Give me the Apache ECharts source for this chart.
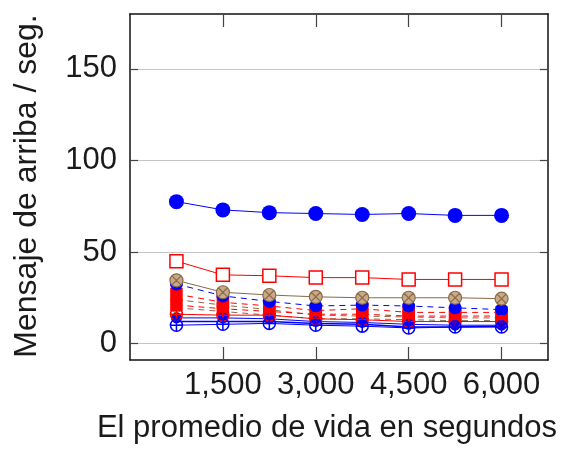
<!DOCTYPE html>
<html>
<head>
<meta charset="utf-8">
<script src="https://cdn.jsdelivr.net/npm/echarts@6/dist/echarts.min.js"></script>
<style>
  html, body { margin: 0; padding: 0; background: #ffffff; }
  #chart { width: 563px; height: 449px; }
</style>
</head>
<body>
<div id="chart"></div>
<script>
// Average lifetime (seconds) on the x axis
const lifetimes = [750, 1500, 2250, 3000, 3750, 4500, 5250, 6000];

// Upward messages per second, one array per curve
const blueTop     = [77.5, 73, 71.5, 71, 70.5, 71, 70, 70];
const redSquare   = [45, 37.5, 37, 36, 36, 35, 35, 35];
const brownTop    = [34.5, 28, 26.5, 25.5, 25, 25, 25, 24.5];
const blueDashed  = [32.5, 26, 23, 20.5, 21, 20.5, 19.5, 18.5];
const redDashed1  = [27, 22.5, 20.5, 18, 19, 17, 17, 17];
const brownDashed1 = [24, 21, 18.5, 15.5, 15, 14.5, 14, 14];
const redDashed2  = [21, 19, 17.5, 16, 16, 15, 15, 15];
const brownDashed2 = [19.5, 17.5, 15.5, 13.5, 13.5, 13, 12.5, 12.5];
const blueSolid1  = [14, 14, 13.5, 12, 11.5, 10.5, 10, 10];
const blueSolid2  = [12, 12, 12, 11, 10.5, 9, 9, 9.5];
const redPlus     = [16, 15.5, 15.5, 13.5, 13, 12, 12, 12];
const bluePlus    = [10, 10.5, 11, 10, 9.5, 8.5, 9, 9];

// Tick positions
const xTicks = [1500, 3000, 4500, 6000];
const yTicks = [0, 50, 100, 150];

const BLUE = '#0000ff';
const RED = '#ff0000';
const BROWN = '#8a6a48';
const circlePlus = 'path://M0,-10A10,10 0 1,1 0,10A10,10 0 1,1 0,-10ZM-10,0L10,0M0,-10L0,10';
const circleCross = 'path://M0,-10A10,10 0 1,1 0,10A10,10 0 1,1 0,-10ZM-7,-7L7,7M-7,7L7,-7';

function pairs(ys) { return lifetimes.map((x, i) => [x, ys[i]]); }

function curve(name, ys, opts) {
  return {
    name: name,
    type: 'line',
    data: pairs(ys),
    symbol: opts.symbol,
    symbolSize: opts.size,
    showSymbol: opts.symbol !== 'none',
    lineStyle: { color: opts.color, width: opts.width || 1, type: opts.dash ? [6, 5] : 'solid' },
    itemStyle: {
      color: opts.fill,
      borderColor: opts.stroke || opts.color,
      borderWidth: opts.bw == null ? 1.5 : opts.bw
    },
    emphasis: { disabled: true },
    z: 2
  };
}

const numFont = "'Liberation Sans', Arial, sans-serif";
const frameLine = { show: true, onZero: false, lineStyle: { color: '#111', width: 1.5 } };

const chart = echarts.init(document.getElementById('chart'), null, { renderer: 'canvas' });
chart.setOption({
  animation: false,
  backgroundColor: '#ffffff',
  grid: { left: 130, right: 15, top: 14, bottom: 89 },
  xAxis: [
    {
      type: 'value', min: 0, max: 6750, position: 'bottom',
      axisLine: frameLine,
      axisTick: { show: true, inside: true, length: 13, customValues: xTicks, lineStyle: { color: '#444', width: 1.2 } },
      axisLabel: {
        customValues: xTicks, margin: 10,
        formatter: v => v.toLocaleString('en-US'),
        fontFamily: numFont, fontSize: 31, color: '#1a1a1a'
      },
      splitLine: { show: false }
    },
    {
      type: 'value', min: 0, max: 6750, position: 'top',
      axisLine: frameLine,
      axisTick: { show: true, inside: true, length: 13, customValues: xTicks, lineStyle: { color: '#444', width: 1.2 } },
      axisLabel: { show: false },
      splitLine: { show: false }
    }
  ],
  yAxis: [
    {
      type: 'value', min: -9, max: 180, position: 'left',
      axisLine: frameLine,
      axisTick: { show: true, inside: true, length: 8, customValues: yTicks, lineStyle: { color: '#444', width: 1.2 } },
      axisLabel: {
        customValues: yTicks, margin: 13,
        fontFamily: numFont, fontSize: 31, color: '#1a1a1a'
      },
      splitLine: { show: true, lineStyle: { color: '#c4c4c4', width: 1 } }
    },
    {
      type: 'value', min: -9, max: 180, position: 'right',
      axisLine: frameLine,
      axisTick: { show: true, inside: true, length: 8, customValues: yTicks, lineStyle: { color: '#444', width: 1.2 } },
      axisLabel: { show: false },
      splitLine: { show: false }
    }
  ],
  series: [
    curve('brownDashed1', brownDashed1, { symbol: circleCross, size: 10, color: BROWN, fill: '#c8aa88', dash: true, bw: 1 }),
    curve('brownDashed2', brownDashed2, { symbol: circleCross, size: 10, color: BROWN, fill: '#c8aa88', dash: true, bw: 1 }),
    curve('redDashed1', redDashed1, { symbol: 'rect', size: 11, color: RED, fill: RED, dash: true }),
    curve('redDashed2', redDashed2, { symbol: 'rect', size: 11, color: RED, fill: RED, dash: true }),
    curve('blueDashed', blueDashed, { symbol: 'circle', size: 13, color: BLUE, fill: BLUE, dash: true, bw: 0 }),
    curve('blueSolid1', blueSolid1, { symbol: 'circle', size: 11, color: BLUE, fill: BLUE, bw: 0 }),
    curve('blueSolid2', blueSolid2, { symbol: 'none', size: 0, color: BLUE, fill: BLUE, width: 1.5 }),
    curve('redPlus', redPlus, { symbol: circlePlus, size: 12, color: RED, fill: 'rgba(0,0,0,0)' }),
    curve('bluePlus', bluePlus, { symbol: circlePlus, size: 12, color: BLUE, fill: 'rgba(0,0,0,0)' }),
    curve('brownTop', brownTop, { symbol: circleCross, size: 13, color: BROWN, fill: '#c8aa88', bw: 1.2 }),
    curve('redSquare', redSquare, { symbol: 'rect', size: 13, color: RED, fill: '#ffffff' }),
    curve('blueTop', blueTop, { symbol: 'circle', size: 15, color: BLUE, fill: BLUE, bw: 0 })
  ],
  graphic: [
    {
      type: 'text', x: 327, y: 428,
      style: {
        text: 'El promedio de vida en segundos',
        font: "31px 'Liberation Sans', Arial, sans-serif",
        fill: '#1a1a1a', align: 'center', verticalAlign: 'middle'
      }
    },
    {
      type: 'text', x: 27, y: 186, rotation: Math.PI / 2,
      style: {
        text: 'Mensaje de arriba / seg.',
        font: "32px 'Liberation Sans', Arial, sans-serif",
        fill: '#1a1a1a', align: 'center', verticalAlign: 'middle'
      }
    }
  ]
});
</script>
</body>
</html>
